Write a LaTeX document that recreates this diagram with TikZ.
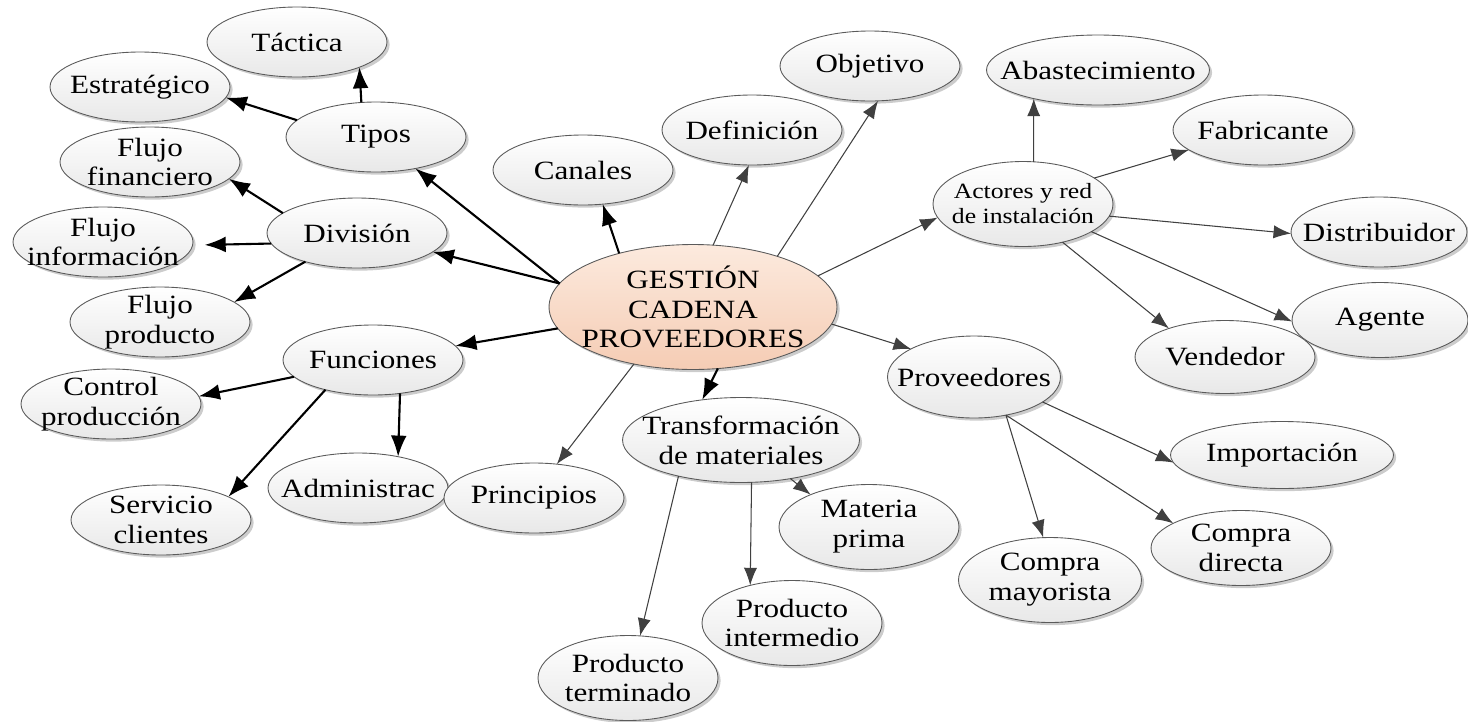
\documentclass[tikz,border=0pt]{standalone}
\usepackage{fontspec}
\setmainfont{Liberation Serif}[FakeStretch=1.18]
\usetikzlibrary{shapes.geometric,arrows.meta,shadows}
\definecolor{peachtop}{RGB}{252,234,222}
\definecolor{peachbot}{RGB}{245,204,180}
\definecolor{rim}{RGB}{90,90,90}
\definecolor{wire}{RGB}{64,64,64}

\begin{document}
\begin{tikzpicture}[x=0.02cm,y=-0.02cm,
    bub/.style={ellipse,draw=rim,line width=0.5pt,top color=white,bottom color=gray!18,
      inner sep=-4cm,outer sep=0pt,minimum width=3.6cm,minimum height=1.4cm,align=center,
      font=\fontsize{15}{17}\selectfont,
      drop shadow={shadow xshift=1.5pt,shadow yshift=-1.5pt,opacity=.2,fill=black}},
    tall/.style={minimum height=1.7cm},
    hub/.style={bub,top color=peachtop,bottom color=peachbot,minimum width=5.76cm,minimum height=2.5cm},
    major/.style={-{Latex[length=12pt,width=9pt]},line width=1.2pt,black},
    minor/.style={-{Latex[length=10pt,width=7.5pt]},line width=0.6pt,wire}]
    \useasboundingbox (0,0) rectangle (1468,721);
    %centre and left branches
    \node[hub] (gcp) at (693,307) {GESTIÓN\\CADENA\\PROVEEDORES};
    \node[bub] (tipos) at (376,137) {Tipos};
    \node[bub] (tactica) at (297,42) {Táctica};
    \node[bub] (estrategico) at (140,87) {Estratégico};
    \node[bub] (division) at (357,233) {División};
    \node[bub] (ffin) at (150,162) {Flujo\\financiero};
    \node[bub] (finfo) at (103,242) {Flujo\\información};
    \node[bub] (fprod) at (160,322) {Flujo\\producto};
    \node[bub] (funciones) at (373,360) {Funciones};
    \node[bub] (control) at (111,404) {Control\\producción};
    \node[bub] (admin) at (358,488) {Administrac};
    \node[bub] (servicio) at (161,520) {Servicio\\clientes};
    \node[bub] (principios) at (534,498) {Principios};
    \node[bub] (canales) at (583,170) {Canales};
    \node[bub] (definicion) at (752,130) {Definición};
    \node[bub] (objetivo) at (870,66) {Objetivo};
    %lower branch
    \node[bub,tall,minimum width=4.74cm] (transf) at (741,440) {Transformación\\de materiales};
    \node[bub,tall] (materia) at (869,527) {Materia\\prima};
    \node[bub,tall] (intermedio) at (792,623) {Producto\\intermedio};
    \node[bub,tall] (terminado) at (628,678) {Producto\\terminado};
    %right branches
    \node[bub,tall,font=\fontsize{12.4}{14.2}\selectfont] (actores) at (1023,204) {Actores y red\\de instalación};
    \node[bub,minimum width=4.46cm] (abast) at (1098,70) {Abastecimiento};
    \node[bub] (fabricante) at (1263,130) {Fabricante};
    \node[bub,minimum width=3.52cm] (distribuidor) at (1379,232) {Distribuidor};
    \node[bub,minimum width=3.52cm,minimum height=1.5cm] (agente) at (1380,320) {Agente};
    \node[bub,minimum height=1.46cm] (vendedor) at (1225,357) {Vendedor};
    \node[bub,minimum width=3.46cm,minimum height=1.64cm] (proveedores) at (974,377) {Proveedores};
    \node[bub,minimum width=4.46cm,minimum height=1.34cm] (importacion) at (1282,455) {Importación};
    \node[bub,minimum height=1.5cm] (cdirecta) at (1241,548) {Compra\\directa};
    \node[bub,tall,minimum width=3.66cm] (cmayorista) at (1050,580) {Compra\\mayorista};

    \draw[major] (gcp.170) -- (tipos);
    \draw[major] (gcp.170) -- (division);
    \draw[major] (gcp.189) -- (funciones);
    \draw[major] (gcp.144) -- (canales.-60);
    \draw[major] (gcp.-68) -- (transf.134);
    \draw[major] (tipos.113) -- (tactica.-22);
    \draw[major] (tipos.168) -- (estrategico.-7);
    \draw[major] (division.165) -- (ffin.-12);
    \draw[major,shorten >=0.24cm] (division.187) -- (finfo.-2);
    \draw[major] (division.209) -- (fprod.15);
    \draw[major] (funciones.192) -- (control.5);
    \draw[major] (funciones.-51) -- (admin.38);
    \draw[major] (funciones.212) -- (servicio.19);

    \draw[minor] (gcp.224) -- (principios.56);
    \draw[minor] (gcp.72) -- (definicion.265);
    \draw[minor] (gcp.31) -- (objetivo.283);
    \draw[minor] (gcp.14) -- (actores.189);
    \draw[minor] (gcp.-7) -- (proveedores.156);
    \draw[minor] (transf.-38) -- (materia.151);
    \draw[minor] (transf.-76) -- (intermedio.138);
    \draw[minor] (transf.210) -- (terminado.74);
    \draw[minor] (actores.76) -- (abast.204);
    \draw[minor] (actores.20) -- (fabricante.195);
    \draw[minor] (actores.-8) -- (distribuidor.181);
    \draw[minor] (actores.-22) -- (agente.181);
    \draw[minor] (actores.-44) -- (vendedor.153);
    \draw[minor] (proveedores.-20) -- (importacion.184);
    \draw[minor] (proveedores.-50) -- (cdirecta.160);
    \draw[minor] (proveedores.-50) -- (cmayorista.99);
\end{tikzpicture}
\end{document}
